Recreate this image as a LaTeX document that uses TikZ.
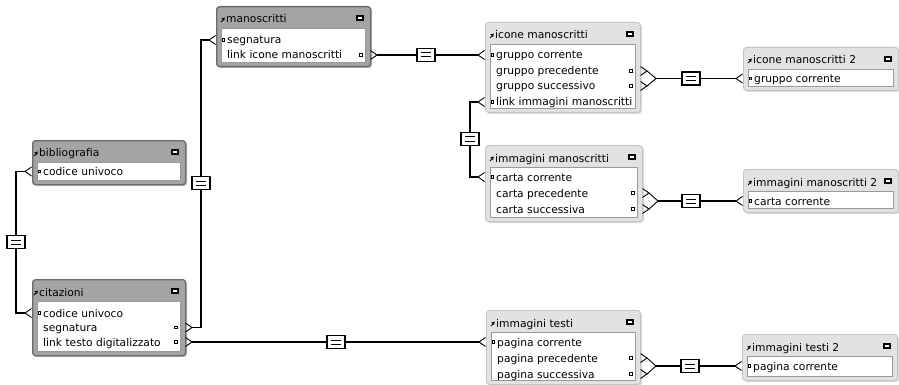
\documentclass[tikz,border=0pt]{standalone}
\usepackage{fontspec}
\setmainfont{DejaVu Sans}
\usetikzlibrary{calc}
\definecolor{darkfill}{HTML}{A4A4A4}
\definecolor{darkedge}{HTML}{6A6A6A}
\definecolor{lightfill}{HTML}{E2E2E2}
\definecolor{lightedge}{HTML}{C4C4C4}
\definecolor{shadedark}{HTML}{BDBDBD}
\definecolor{shadelight}{HTML}{DADADA}
\definecolor{bodyedge}{HTML}{9A9A9A}
\tikzset{
  framedark/.style={draw=darkedge,fill=darkfill,line width=1.3pt,rounded corners=3pt,inner sep=0pt},
  framelight/.style={draw=lightedge,fill=lightfill,line width=0.8pt,rounded corners=3pt,inner sep=0pt},
  bodybox/.style={draw=bodyedge,fill=white,line width=0.6pt,inner sep=0pt},
  txt/.style={font=\fontsize{10.7}{12}\selectfont,inner sep=0pt},
  eqbox/.style={draw,fill=white,line width=1.1pt,minimum width=18pt,minimum height=13pt,inner sep=0pt},
  conn/.style={line width=1.2pt,black},
  crow/.style={line width=0.9pt,black},
  keysq/.style={draw=black,fill=white,line width=0.7pt},
}
% table: name, x, y, w, h, title, dark/light, title offset
\newcommand\dbtable[8]{%
  \fill[shade#7,rounded corners=3pt] (#2+2,#3+2) rectangle (#2+#4+2,#3+#5+2);
  \node[frame#7,anchor=north west,minimum width=#4pt,minimum height=#5pt] (#1) at (#2,#3) {};
  \node[bodybox,anchor=north west,minimum width=#4pt-10pt,minimum height=#5pt-26pt] (#1-b) at (#2+5,#3+22) {};
  \node[txt,anchor=base west] (#1-t) at (#2+#8,#3+17) {#6};
  \draw[line width=0.8pt] (#2+#8-5,#3+16) -- (#2+#8-2.5,#3+13.5);
  \fill (#2+#8-1.2,#3+11.6) -- (#2+#8-4.6,#3+12.3) -- (#2+#8-1.9,#3+15) -- cycle;
  \fill (#2+#4-14,#3+9) rectangle (#2+#4-6,#3+15);
  \fill[white] (#2+#4-12,#3+11.4) rectangle (#2+#4-8,#3+12.8);
}
% key field: name, table x, y, text
\newcommand\keyfld[4]{%
  \draw[keysq] (#2+6.2,#3-1.4) rectangle (#2+8.6,#3+1);
  \node[txt,anchor=base west] (#1) at (#2+11,#3+4) {#4};
}
\newcommand\fld[4]{%
  \node[txt,anchor=base west] (#1) at (#2+11,#3+4) {#4};
}
% right dot: table right x, y
\newcommand\rdot[2]{%
  \draw[keysq] (#1-10.2,#2-1.4) rectangle (#1-7.8,#2+1);
}
% crow feet
\newcommand\lcrow[3]{%
  \draw[crow] (#2-0.5,#3-4.5) -- (#2-7,#3) -- (#2-0.5,#3+4.5);
  \coordinate (#1) at (#2-7,#3);
}
\newcommand\rcrow[3]{%
  \draw[crow] (#2+0.5,#3-4.5) -- (#2+7,#3) -- (#2+0.5,#3+4.5);
  \coordinate (#1) at (#2+7,#3);
}
\newcommand\eqnode[3]{%
  \node[eqbox] (#1) at (#2,#3) {};
  \draw[line width=1pt] ($(#1.center)+(-5,-2)$) -- ++(10,0);
  \draw[line width=1pt] ($(#1.center)+(-5,2)$) -- ++(10,0);
}
\begin{document}
\begin{tikzpicture}[x=1pt,y=-1pt]
\useasboundingbox (0,0) rectangle (899,385);
\fill[white] (0,0) rectangle (899,385);

% ---------- tables ----------
\dbtable{manos}{216}{6}{154}{60}{manoscritti}{dark}{10}
\keyfld{manos-f1}{216}{40}{segnatura}
\fld{manos-f2}{216}{55}{link icone manoscritti}
\rdot{370}{55}

\dbtable{bib}{32}{140}{153}{44}{bibliografia}{dark}{7}
\keyfld{bib-f1}{32}{171.5}{codice univoco}

\dbtable{cit}{32}{279}{153}{76}{citazioni}{dark}{7}
\keyfld{cit-f1}{32}{313}{codice univoco}
\fld{cit-f2}{32}{327.5}{segnatura}
\rdot{185}{327.5}
\fld{cit-f3}{32}{342}{link testo digitalizzato}
\rdot{185}{342}

\dbtable{icone}{485}{22}{155}{90}{icone manoscritti}{light}{10}
\keyfld{icone-f1}{485}{55}{gruppo corrente}
\fld{icone-f2}{485}{71}{gruppo precedente}
\rdot{640}{71}
\fld{icone-f3}{485}{86}{gruppo successivo}
\rdot{640}{86}
\keyfld{icone-f4}{485}{102}{link immagini manoscritti}

\dbtable{imman}{485}{145}{157}{76}{immagini manoscritti}{light}{10}
\keyfld{imman-f1}{485}{177}{carta corrente}
\fld{imman-f2}{485}{193}{carta precedente}
\rdot{642}{193}
\fld{imman-f3}{485}{209}{carta successiva}
\rdot{642}{209}

\dbtable{icone2}{743}{47}{155}{43}{icone manoscritti 2}{light}{10}
\keyfld{icone2-f1}{743}{78.5}{gruppo corrente}

\dbtable{imman2}{743}{169}{155}{43}{immagini manoscritti 2}{light}{10}
\keyfld{imman2-f1}{743}{201}{carta corrente}

\dbtable{imtesti}{486}{310}{154}{74}{immagini testi}{light}{10}
\keyfld{imtesti-f1}{486}{342}{pagina corrente}
\fld{imtesti-f2}{486}{358}{pagina precedente}
\rdot{640}{358}
\fld{imtesti-f3}{486}{374}{pagina successiva}
\rdot{640}{374}

\dbtable{imtesti2}{742}{334}{155}{46}{immagini testi 2}{light}{10}
\keyfld{imtesti2-f1}{742}{366}{pagina corrente}

% ---------- crow feet ----------
\lcrow{bib-a}{32}{171.5}
\lcrow{cit-a}{32}{313}
\rcrow{cit-r2}{185}{327.5}
\rcrow{cit-r3}{185}{342}
\lcrow{manos-a}{216}{40}
\rcrow{manos-r}{370}{55}
\lcrow{icone-a1}{485}{55}
\lcrow{icone-a4}{485}{102}
\rcrow{icone-r2}{640}{71}
\rcrow{icone-r3}{640}{86}
\lcrow{imman-a}{485}{177}
\rcrow{imman-r2}{642}{193}
\rcrow{imman-r3}{642}{209}
\lcrow{icone2-a}{743}{78.5}
\lcrow{imman2-a}{743}{201}
\lcrow{imtesti-a}{486}{342}
\rcrow{imtesti-r2}{640}{358}
\rcrow{imtesti-r3}{640}{374}
\lcrow{imtesti2-a}{742}{366}

\coordinate (icone-m) at (656,78.5);
\coordinate (imman-m) at (658,201);
\coordinate (imtesti-m) at (656,366);
\draw[crow] (icone-r2) -- (icone-m) -- (icone-r3);
\draw[crow] (imman-r2) -- (imman-m) -- (imman-r3);
\draw[crow] (imtesti-r2) -- (imtesti-m) -- (imtesti-r3);

% ---------- relationships ----------
\eqnode{eq1}{16}{242}
\draw[conn] (bib-a) -| (eq1);
\draw[conn] (eq1) |- (cit-a);

\eqnode{eq2}{201}{183}
\draw[conn] (cit-r2) -| (eq2);
\draw[conn] (eq2) |- (manos-a);

\eqnode{eq3}{336}{342}
\draw[conn] (cit-r3) -- (eq3);
\draw[conn] (eq3) -- (imtesti-a);

\eqnode{eq4}{426}{55}
\draw[conn] (manos-r) -- (eq4);
\draw[conn] (eq4) -- (icone-a1);

\eqnode{eq5}{470}{139}
\draw[conn] (icone-a4) -| (eq5);
\draw[conn] (eq5) |- (imman-a);

\eqnode{eq6}{691}{78.5}
\draw[conn] (icone-m) -- (eq6);
\draw[conn] (eq6) -- (icone2-a);

\eqnode{eq7}{691}{201}
\draw[conn] (imman-m) -- (eq7);
\draw[conn] (eq7) -- (imman2-a);

\eqnode{eq8}{690}{366}
\draw[conn] (imtesti-m) -- (eq8);
\draw[conn] (eq8) -- (imtesti2-a);
\end{tikzpicture}
\end{document}
